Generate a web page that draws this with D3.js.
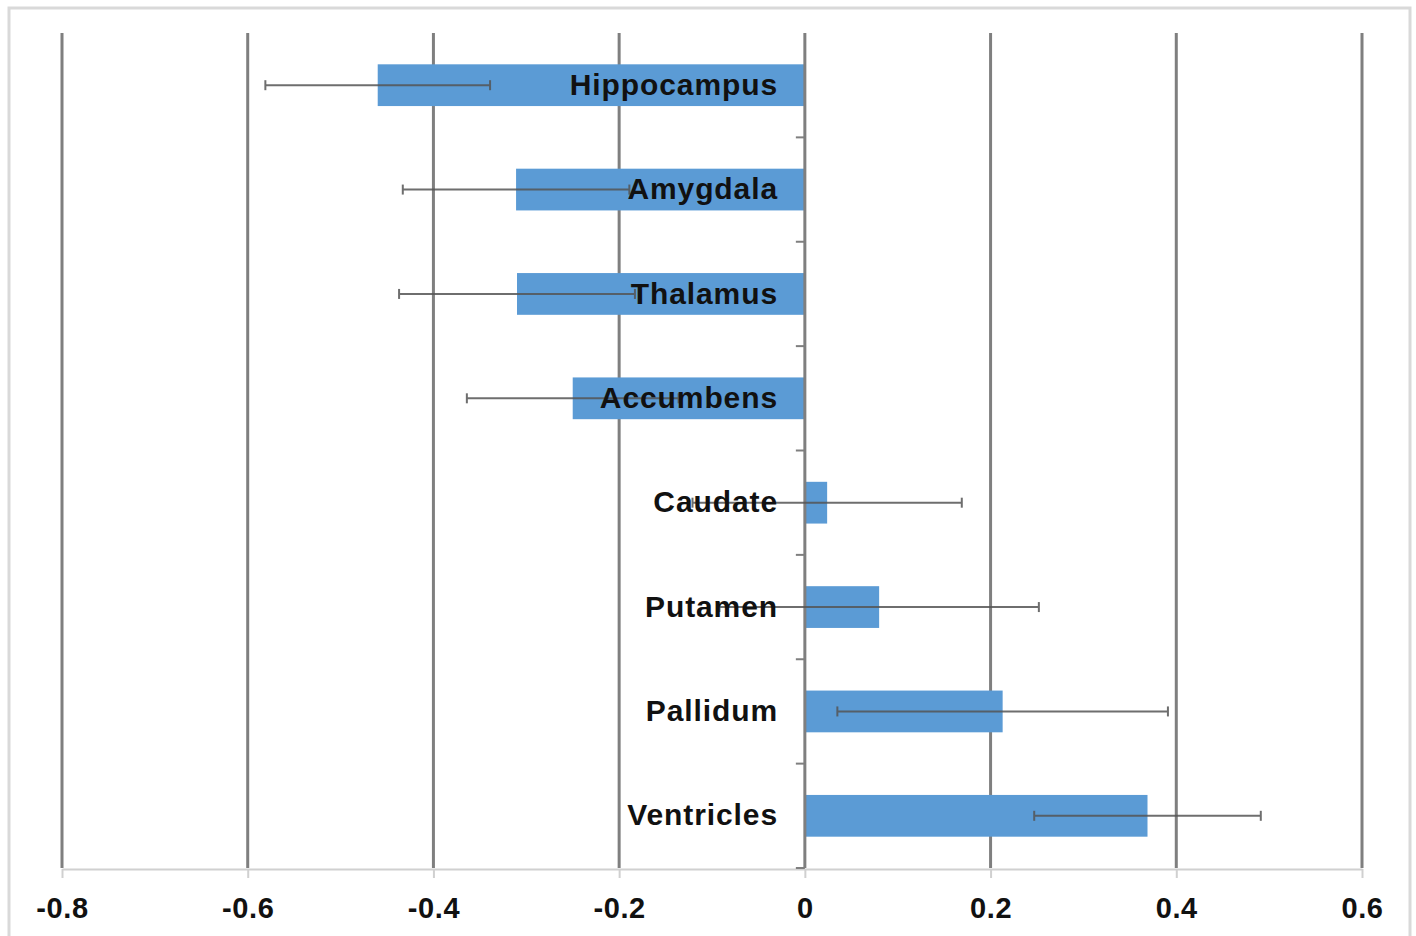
<!DOCTYPE html>
<html>
<head>
<meta charset="utf-8">
<script src="https://cdn.jsdelivr.net/npm/d3@7"></script>
<style>
  body { margin: 0; background: #fff; }
  svg { display: block; }
  text { font-family: "Liberation Sans", Arial, sans-serif; font-weight: bold; fill: #111; }
</style>
</head>
<body>
<svg id="chart" width="1416" height="936"></svg>
<script>
var regions = ["Hippocampus", "Amygdala", "Thalamus", "Accumbens", "Caudate", "Putamen", "Pallidum", "Ventricles"];
var effect_sizes = [-0.46, -0.311, -0.31, -0.25, 0.024, 0.08, 0.213, 0.369];
var error_margins = [0.121, 0.122, 0.127, 0.114, 0.145, 0.172, 0.178, 0.122];
var x_ticks = [-0.8, -0.6, -0.4, -0.2, 0, 0.2, 0.4, 0.6];
var x_tick_labels = ["-0.8", "-0.6", "-0.4", "-0.2", "0", "0.2", "0.4", "0.6"];

var svg = d3.select("#chart");
var plot_left = 62, plot_right = 1362, plot_top = 33, plot_bottom = 868;

// outer frame
svg.append("rect").
    attr("x", 9).attr("y", 8).
    attr("width", 1401).attr("height", 940).
    attr("fill", "none").
    attr("stroke", "#d9d9d9").
    attr("stroke-width", 3);

var x = d3.scaleLinear().domain([-0.8, 0.6]).range([plot_left, plot_right]);
var y = d3.scaleBand().domain(regions).range([plot_top, plot_bottom]).paddingInner(0.6).paddingOuter(0.3);
var y_outer = d3.scaleBand().domain(regions).range([plot_top, plot_bottom]);

// vertical gridlines
svg.append("g").selectAll("line").data(x_ticks.filter(function(t) { return t !== 0; })).enter().append("line").
    attr("x1", function(t) { return x(t); }).
    attr("x2", function(t) { return x(t); }).
    attr("y1", plot_top).attr("y2", plot_bottom).
    attr("stroke", "#7f7f7f").
    attr("stroke-width", 3);

// bottom axis
var x_axis = svg.append("g").
    attr("transform", "translate(0," + (plot_bottom + 1) + ")").
    call(d3.axisBottom(x).tickValues(x_ticks).tickSize(9).tickSizeOuter(0).tickFormat(function(t, i) { return x_tick_labels[i]; }));
x_axis.select(".domain").attr("stroke", "#d0d0d0").attr("stroke-width", 2);
x_axis.selectAll(".tick line").attr("stroke", "#d0d0d0").attr("stroke-width", 2);
x_axis.selectAll(".tick text").
    attr("y", 49).
    attr("dy", "0").
    style("font-family", "'Liberation Sans', Arial, sans-serif").
    style("font-weight", "bold").
    style("font-size", "29px").
    style("letter-spacing", "0.6px").
    attr("fill", "#111");

// bars
svg.append("g").selectAll("rect").data(regions).enter().append("rect").
    attr("x", function(r, i) { return Math.min(x(0) + 1, x(effect_sizes[i])); }).
    attr("y", function(r) { return y(r); }).
    attr("width", function(r, i) { return Math.abs(x(effect_sizes[i]) - x(0) - 1); }).
    attr("height", y.bandwidth()).
    attr("fill", "#5b9bd5");

// zero axis with category ticks
svg.append("line").
    attr("x1", x(0)).attr("x2", x(0)).
    attr("y1", plot_top).attr("y2", plot_bottom).
    attr("stroke", "#7f7f7f").
    attr("stroke-width", 3);
var boundaries = regions.map(function(r) { return y_outer(r); }).slice(1).concat([plot_bottom]);
svg.append("g").selectAll("line").data(boundaries).enter().append("line").
    attr("x1", x(0) - 9).attr("x2", x(0)).
    attr("y1", function(b) { return b; }).
    attr("y2", function(b) { return b; }).
    attr("stroke", "#7f7f7f").
    attr("stroke-width", 2);

// error bars
var errors = svg.append("g").attr("stroke", "#555").attr("stroke-width", 2).attr("opacity", 0.85);
regions.forEach(function(r, i)
{
    var cy = y_outer(r) + y_outer.bandwidth() / 2;
    var lo = x(effect_sizes[i] - error_margins[i]);
    var hi = x(effect_sizes[i] + error_margins[i]);
    errors.append("line").attr("x1", lo).attr("x2", hi).attr("y1", cy).attr("y2", cy);
    errors.append("line").attr("x1", lo).attr("x2", lo).attr("y1", cy - 5).attr("y2", cy + 5);
    errors.append("line").attr("x1", hi).attr("x2", hi).attr("y1", cy - 5).attr("y2", cy + 5);
});

// category labels
svg.append("g").selectAll("text").data(regions).enter().append("text").
    attr("x", 778).
    attr("y", function(r) { return y_outer(r) + y_outer.bandwidth() / 2; }).
    attr("dy", "0.32em").
    attr("text-anchor", "end").
    style("font-size", "30px").
    style("letter-spacing", "0.9px").
    text(function(r) { return r; });
</script>
</body>
</html>
